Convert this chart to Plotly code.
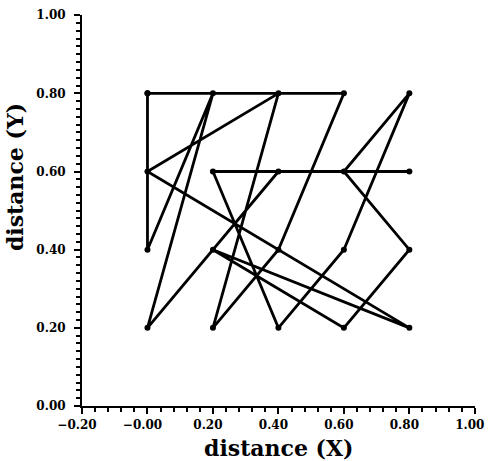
import plotly.graph_objects as go

# Tour through the grid points (closed path)
tour_x = [0.0, 0.0, 0.2, 0.0, 0.4, 0.8, 0.2, 0.4, 0.6, 0.8, 0.6, 0.8, 0.6, 0.2, 0.8, 0.0, 0.4, 0.2, 0.4, 0.6, 0.0]
tour_y = [0.8, 0.4, 0.8, 0.2, 0.6, 0.6, 0.6, 0.2, 0.4, 0.8, 0.6, 0.4, 0.2, 0.4, 0.2, 0.6, 0.8, 0.2, 0.4, 0.8, 0.8]

x_tickvals = [-0.2, 0.0, 0.2, 0.4, 0.6, 0.8, 1.0]
x_ticktext = ["\u22120.20", "\u22120.00", "0.20", "0.40", "0.60", "0.80", "1.00"]
y_tickvals = [0.0, 0.2, 0.4, 0.6, 0.8, 1.0]
y_ticktext = ["0.00", "0.20", "0.40", "0.60", "0.80", "1.00"]

x_title = "distance (X)"
y_title = "distance (Y)"

FONT = "DejaVu Serif"

fig = go.Figure()
fig.add_trace(go.Scatter(
    x=tour_x, y=tour_y, mode="lines+markers",
    line=dict(color="black", width=2.8),
    marker=dict(color="black", size=6),
    showlegend=False, cliponaxis=False,
))

axis_common = dict(
    showgrid=False, zeroline=False, showline=True, linecolor="black", linewidth=2,
    ticks="outside", ticklen=6, tickwidth=1.5, tickcolor="black",
    tickfont=dict(family=FONT, size=12, color="black", weight="bold"),
    ticklabeloverflow="allow", automargin=False,
)

fig.update_xaxes(range=[-0.2, 1.0005], tickmode="array", tickvals=x_tickvals, ticktext=x_ticktext,
                 minor=dict(dtick=0.04, tick0=0, ticks="outside", ticklen=4, tickwidth=1.5, tickcolor="black"),
                 ticklabelstandoff=1, ticklabelshift=-5, **axis_common)
fig.update_yaxes(range=[0.0, 1.0005], tickmode="array", tickvals=y_tickvals, ticktext=y_ticktext,
                 minor=dict(dtick=0.02, tick0=0, ticks="outside", ticklen=4, tickwidth=1.5, tickcolor="black"),
                 ticklabelstandoff=6, **axis_common)

fig.add_annotation(text=x_title, xref="paper", yref="paper", x=0.5, y=-0.108, xanchor="center", yanchor="middle",
                   showarrow=False, font=dict(family=FONT, size=22, color="black", weight="bold"))
fig.add_annotation(text=y_title, xref="paper", yref="paper", x=-0.17, y=0.586, xanchor="center", yanchor="middle",
                   textangle=-90, showarrow=False, font=dict(family=FONT, size=22, color="black", weight="bold"))

fig.update_layout(
    width=488, height=461,
    margin=dict(l=82, r=13, t=15, b=55, autoexpand=False),
    paper_bgcolor="white", plot_bgcolor="white",
)

fig.write_html("out.html")
